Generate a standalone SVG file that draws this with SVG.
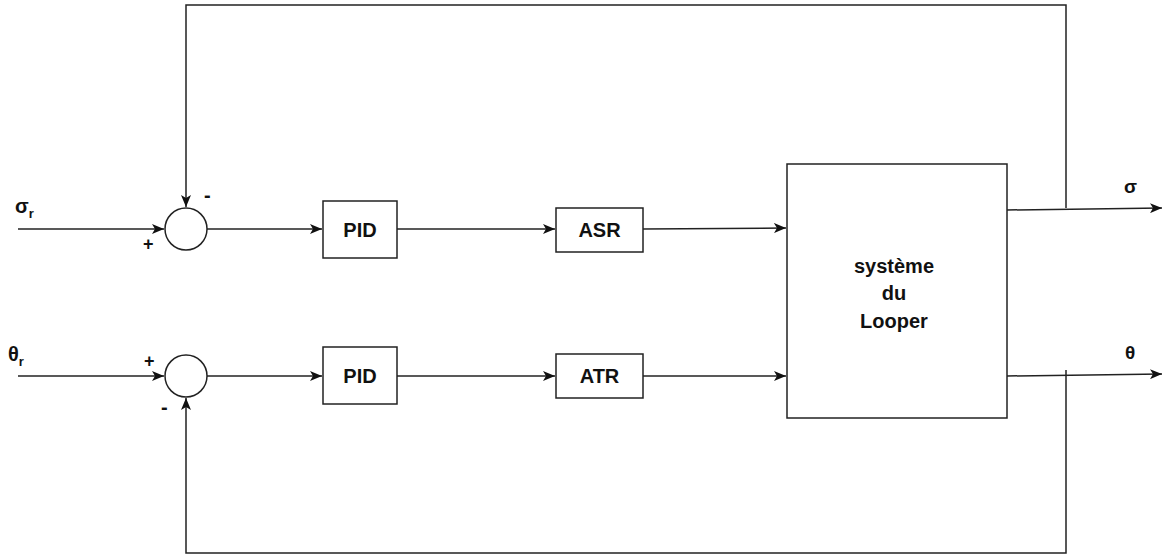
<svg xmlns="http://www.w3.org/2000/svg" width="1164" height="558" viewBox="0 0 1164 558">
<style>
.ln{stroke:#222;stroke-width:1.5;fill:none}
.bx{stroke:#222;stroke-width:1.5;fill:#fff}
.t{font-family:"Liberation Sans",Arial,sans-serif;font-weight:bold;fill:#111}
</style>
<defs>
<marker id="ah" viewBox="0 0 12 10" refX="12" refY="5" markerWidth="12" markerHeight="10" markerUnits="userSpaceOnUse" orient="auto">
<path d="M0,0 L12,5 L0,10 L3,5 Z" fill="#111"/>
</marker>
</defs>
<rect width="1164" height="558" fill="#fff"/>
<g id="connectors">
<line class="ln" x1="18" y1="229" x2="164" y2="229" marker-end="url(#ah)"/>
<polyline class="ln" points="1066,208 1066,5 186,5 186,207" marker-end="url(#ah)"/>
<line class="ln" x1="207" y1="229" x2="322" y2="229" marker-end="url(#ah)"/>
<line class="ln" x1="397" y1="229" x2="555" y2="229" marker-end="url(#ah)"/>
<line class="ln" x1="643" y1="229" x2="786" y2="228" marker-end="url(#ah)"/>
<line class="ln" x1="1007" y1="210" x2="1162" y2="208" marker-end="url(#ah)"/>
<line class="ln" x1="18" y1="376" x2="164" y2="376" marker-end="url(#ah)"/>
<polyline class="ln" points="1066,370 1066,553 186,553 186,398" marker-end="url(#ah)"/>
<line class="ln" x1="207" y1="376" x2="322" y2="376" marker-end="url(#ah)"/>
<line class="ln" x1="397" y1="376" x2="555" y2="376" marker-end="url(#ah)"/>
<line class="ln" x1="643" y1="376" x2="786" y2="376" marker-end="url(#ah)"/>
<line class="ln" x1="1007" y1="376" x2="1162" y2="374" marker-end="url(#ah)"/>
</g>
<g id="sum1"><circle class="bx" cx="186" cy="229" r="21"/></g>
<g id="sum2"><circle class="bx" cx="186" cy="376" r="21"/></g>
<g id="pid1"><rect class="bx" x="323" y="201" width="74" height="57"/><text class="t" x="360" y="237" font-size="20" text-anchor="middle">PID</text></g>
<g id="asr"><rect class="bx" x="556" y="208" width="87" height="44"/><text class="t" x="599.5" y="237" font-size="20" text-anchor="middle">ASR</text></g>
<g id="pid2"><rect class="bx" x="323" y="347" width="74" height="57"/><text class="t" x="360" y="383" font-size="20" text-anchor="middle">PID</text></g>
<g id="atr"><rect class="bx" x="556" y="354" width="87" height="44"/><text class="t" x="599.5" y="383" font-size="20" text-anchor="middle">ATR</text></g>
<g id="system"><rect class="bx" x="787" y="164" width="220" height="254"/>
<text class="t" x="894" y="273" font-size="20" text-anchor="middle">système</text>
<text class="t" x="894" y="300" font-size="20" text-anchor="middle">du</text>
<text class="t" x="894" y="328" font-size="20" text-anchor="middle">Looper</text></g>
<g id="labels">
<text class="t" x="15" y="213" font-size="20">σ<tspan font-size="13" dy="5">r</tspan></text>
<text class="t" x="8" y="361" font-size="20">θ<tspan font-size="13" dy="5">r</tspan></text>
<text class="t" x="1124" y="193" font-size="19">σ</text>
<text class="t" x="1125" y="359" font-size="19">θ</text>
<text class="t" x="143" y="250" font-size="18">+</text>
<text class="t" x="204" y="202" font-size="20">-</text>
<text class="t" x="144" y="367" font-size="18">+</text>
<text class="t" x="161" y="414" font-size="20">-</text>
</g>
</svg>
